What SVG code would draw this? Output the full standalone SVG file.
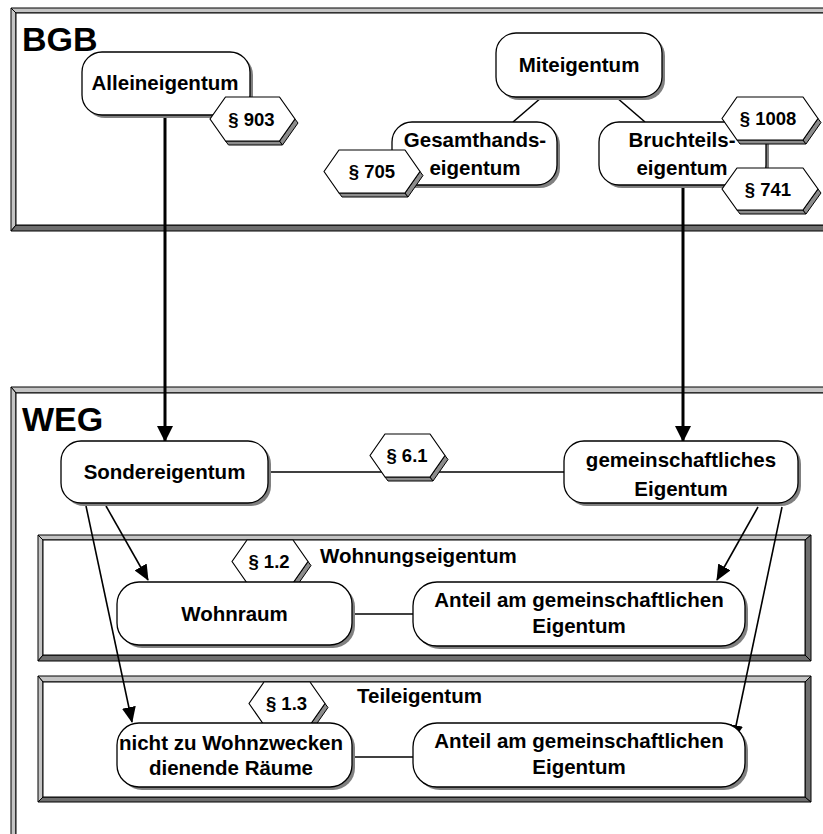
<svg xmlns="http://www.w3.org/2000/svg" width="823" height="834" viewBox="0 0 823 834">
  <defs>
    <style>
      text { font-family: "Liberation Sans", Arial, sans-serif; font-weight: bold; fill: #000; }
      .big { font-size: 34px; }
      .lbl { font-size: 20.5px; text-anchor: middle; }
      .cap { font-size: 20.5px; }
      .par { font-size: 18.5px; text-anchor: middle; }
      .node { fill: #fff; stroke: #000; stroke-width: 1.3; }
      .shadow { fill: #808080; }
      .hex { fill: #fff; stroke: #000; stroke-width: 1.2; stroke-linejoin: round; }
      .side { fill: #8c8c8c; stroke: #000; stroke-width: 1; stroke-linejoin: round; }
      .bevel-lt { fill: #c4c4c4; stroke: #000; stroke-width: 1; }
      .bevel-dk { fill: #6e6e6e; stroke: #000; stroke-width: 1; }
      .frame-in { fill: #fff; stroke: #000; stroke-width: 1; }
      .thin { stroke: #000; stroke-width: 1.6; fill: none; }
      .thick { stroke: #000; stroke-width: 3; fill: none; }
    </style>
    <marker id="headBig" viewBox="0 0 16 16" refX="15" refY="8" markerUnits="userSpaceOnUse" markerWidth="16" markerHeight="16" orient="auto">
      <path d="M0,0 L16,8 L0,16 Z" fill="#000"/>
    </marker>
    <marker id="head" viewBox="0 0 16 14" refX="15" refY="7" markerUnits="userSpaceOnUse" markerWidth="16" markerHeight="14" orient="auto">
      <path d="M0,0 L16,7 L0,14 Z" fill="#000"/>
    </marker>
  </defs>

  <rect width="823" height="834" fill="#fff"/>

  <!-- BGB frame -->
  <g id="frame-bgb">
    <polygon class="bevel-lt" points="11,8 840,8 835,13 16,13"/>
    <polygon class="bevel-lt" points="11,8 16,13 16,225 11,231"/>
    <polygon class="bevel-dk" points="11,231 16,225 835,225 840,231"/>
    <rect class="frame-in" x="16" y="13" width="830" height="212"/>
    <text class="big" x="22" y="51">BGB</text>
  </g>

  <!-- WEG frame -->
  <g id="frame-weg">
    <polygon class="bevel-lt" points="11,387 840,387 835,393 16,393"/>
    <polygon class="bevel-lt" points="11,387 16,393 16,850 11,850"/>
    <rect class="frame-in" x="16" y="393" width="830" height="460"/>
    <text class="big" x="22" y="431">WEG</text>
  </g>

  <!-- Wohnungseigentum frame -->
  <g id="frame-wohnung">
    <polygon class="bevel-lt" points="38,535 811,535 805,540 43,540"/>
    <polygon class="bevel-lt" points="38,535 43,540 43,655 38,661"/>
    <polygon class="bevel-dk" points="38,661 43,655 805,655 811,661"/>
    <polygon class="bevel-dk" points="811,535 811,661 805,655 805,540"/>
    <rect class="frame-in" x="43" y="540" width="762" height="115"/>
    <text class="cap" x="320" y="563">Wohnungseigentum</text>
  </g>

  <!-- Teileigentum frame -->
  <g id="frame-teil">
    <polygon class="bevel-lt" points="38,676 811,676 805,682 43,682"/>
    <polygon class="bevel-lt" points="38,676 43,682 43,797 38,802"/>
    <polygon class="bevel-dk" points="38,802 43,797 805,797 811,802"/>
    <polygon class="bevel-dk" points="811,676 811,802 805,797 805,682"/>
    <rect class="frame-in" x="43" y="682" width="762" height="115"/>
    <text class="cap" x="357" y="703">Teileigentum</text>
  </g>

  <!-- connectors -->
  <g id="connectors">
    <line class="thin" x1="542" y1="97" x2="513" y2="122"/>
    <line class="thin" x1="616" y1="97" x2="645" y2="122"/>
    <line class="thick" x1="165" y1="115" x2="165" y2="441" marker-end="url(#headBig)"/>
    <line class="thick" x1="683" y1="185" x2="683" y2="441" marker-end="url(#headBig)"/>
    <line class="thin" x1="268" y1="472" x2="564" y2="472"/>
    <line class="thin" x1="106" y1="506" x2="148" y2="580" marker-end="url(#head)"/>
    <line class="thin" x1="86" y1="506" x2="132" y2="722" marker-end="url(#head)"/>
    <line class="thin" x1="758" y1="507" x2="717" y2="580" marker-end="url(#head)"/>
    <line class="thin" x1="782" y1="507" x2="733" y2="740" marker-end="url(#head)"/>
    <line class="thin" x1="352" y1="614" x2="413" y2="614"/>
    <line class="thin" x1="352" y1="757" x2="413" y2="757"/>
    <rect x="764" y="140" width="4" height="29" fill="#8c8c8c" stroke="#000" stroke-width="0.8"/>
  </g>

  <!-- BGB nodes -->
  <g id="alleineigentum">
    <rect class="shadow" x="85" y="55" width="168" height="63" rx="20"/>
    <rect class="node" x="82" y="52" width="168" height="63" rx="20"/>
    <text class="lbl" x="165" y="90">Alleineigentum</text>
  </g>
  <g id="p903">
    <polygon class="side" points="225.5,141 279.5,141 282.5,145 228.5,145"/>
    <polygon class="side" points="279.5,141 295,119 298,123 282.5,145"/>
    <polygon class="hex" points="210,119 225.5,97 279.5,97 295,119 279.5,141 225.5,141"/>
    <text class="par" x="251.5" y="126">§ 903</text>
  </g>

  <g id="miteigentum">
    <rect class="shadow" x="499" y="36" width="166" height="64" rx="20"/>
    <rect class="node" x="496" y="33" width="166" height="64" rx="20"/>
    <text class="lbl" x="579" y="72">Miteigentum</text>
  </g>

  <g id="gesamthandseigentum">
    <rect class="shadow" x="395" y="125" width="165" height="63" rx="20"/>
    <rect class="node" x="392" y="122" width="165" height="63" rx="20"/>
    <text class="lbl" x="475" y="147">Gesamthands-</text>
    <text class="lbl" x="475" y="175">eigentum</text>
  </g>
  <g id="p705">
    <polygon class="side" points="339,193 405,193 408,197 342,197"/>
    <polygon class="side" points="405,193 420,171.5 423,175.5 408,197"/>
    <polygon class="hex" points="324,171.5 339,150 405,150 420,171.5 405,193 339,193"/>
    <text class="par" x="372" y="178">§ 705</text>
  </g>

  <g id="bruchteilseigentum">
    <rect class="shadow" x="602" y="125" width="167" height="63" rx="20"/>
    <rect class="node" x="599" y="122" width="167" height="63" rx="20"/>
    <text class="lbl" x="682" y="147">Bruchteils-</text>
    <text class="lbl" x="682" y="175">eigentum</text>
  </g>
  <g id="p1008">
    <polygon class="side" points="737,140 803,140 806,144 740,144"/>
    <polygon class="side" points="803,140 818,118.5 821,122.5 806,144"/>
    <polygon class="hex" points="722,118.5 737,97 803,97 818,118.5 803,140 737,140"/>
    <text class="par" x="768" y="125">§ 1008</text>
  </g>
  <g id="p741">
    <polygon class="side" points="737,210 803,210 806,214 740,214"/>
    <polygon class="side" points="803,210 818,189 821,193 806,214"/>
    <polygon class="hex" points="722,189 737,168 803,168 818,189 803,210 737,210"/>
    <text class="par" x="768" y="196">§ 741</text>
  </g>

  <!-- WEG nodes -->
  <g id="sondereigentum">
    <rect class="shadow" x="64" y="444" width="207" height="62" rx="20"/>
    <rect class="node" x="61" y="441" width="207" height="62" rx="20"/>
    <text class="lbl" x="164.5" y="479">Sondereigentum</text>
  </g>
  <g id="p61">
    <polygon class="side" points="385,477 430,477 433,481 388,481"/>
    <polygon class="side" points="430,477 445,455.5 448,459.5 433,481"/>
    <polygon class="hex" points="370,455.5 385,434 430,434 445,455.5 430,477 385,477"/>
    <text class="par" x="407" y="462">§ 6.1</text>
  </g>
  <g id="gemeinschaftliches-eigentum">
    <rect class="shadow" x="567" y="444" width="234" height="62" rx="20"/>
    <rect class="node" x="564" y="441" width="234" height="62" rx="20"/>
    <text class="lbl" x="681" y="467">gemeinschaftliches</text>
    <text class="lbl" x="681" y="496">Eigentum</text>
  </g>

  <g id="p12">
    <polygon class="side" points="247,583 293,583 296,587 250,587"/>
    <polygon class="side" points="293,583 308,561.5 311,565.5 296,587"/>
    <polygon class="hex" points="232,561.5 247,540 293,540 308,561.5 293,583 247,583"/>
    <text class="par" x="269" y="568">§ 1.2</text>
  </g>
  <g id="wohnraum">
    <rect class="shadow" x="120" y="585" width="235" height="63" rx="22"/>
    <rect class="node" x="117" y="582" width="235" height="63" rx="22"/>
    <text class="lbl" x="234.5" y="621">Wohnraum</text>
  </g>
  <g id="anteil-wohnung">
    <rect class="shadow" x="416" y="585" width="332" height="64" rx="24"/>
    <rect class="node" x="413" y="582" width="332" height="64" rx="24"/>
    <text class="lbl" x="579" y="607">Anteil am gemeinschaftlichen</text>
    <text class="lbl" x="579" y="633">Eigentum</text>
  </g>

  <g id="p13">
    <polygon class="side" points="264,725 310,725 313,729 267,729"/>
    <polygon class="side" points="310,725 325,703.5 328,707.5 313,729"/>
    <polygon class="hex" points="249,703.5 264,682 310,682 325,703.5 310,725 264,725"/>
    <text class="par" x="286.5" y="710">§ 1.3</text>
  </g>
  <g id="raeume">
    <rect class="shadow" x="120" y="726" width="235" height="64" rx="22"/>
    <rect class="node" x="117" y="723" width="235" height="64" rx="22"/>
    <text class="lbl" x="231" y="750">nicht zu Wohnzwecken</text>
    <text class="lbl" x="231" y="775">dienende Räume</text>
  </g>
  <g id="anteil-teil">
    <rect class="shadow" x="416" y="726" width="332" height="64" rx="24"/>
    <rect class="node" x="413" y="723" width="332" height="64" rx="24"/>
    <text class="lbl" x="579" y="748">Anteil am gemeinschaftlichen</text>
    <text class="lbl" x="579" y="774">Eigentum</text>
  </g>
</svg>
